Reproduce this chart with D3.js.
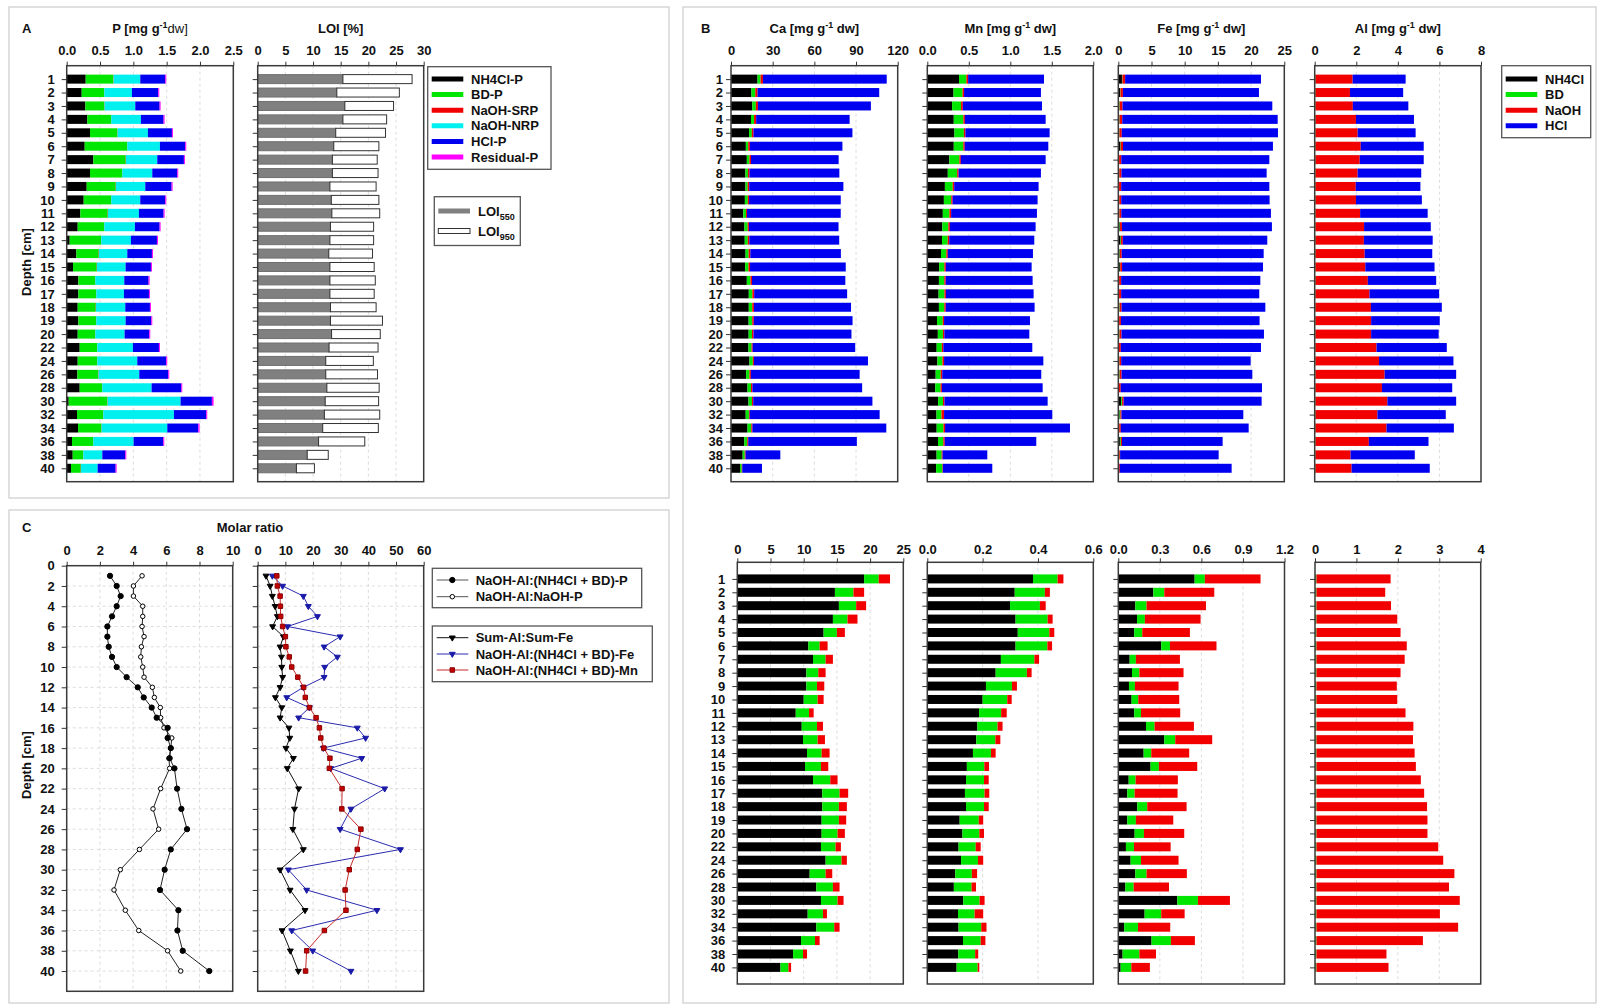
<!DOCTYPE html>
<html>
<head>
<meta charset="utf-8">
<script src="https://cdn.jsdelivr.net/npm/d3@7"></script>
<style>
  body { margin: 0; background: #fff; }
  svg text { font-family: "Liberation Sans", Arial, sans-serif; font-weight: bold; font-size: 13px; fill: #111; }
</style>
</head>
<body>
<svg id="fig" width="1598" height="1005"></svg>
<script>
// --- data ---
const depths = ["1","2","3","4","5","6","7","8","9","10","11","12","13","14","15","16","17","18","19","20","22","24","26","28","30","32","34","36","38","40"];

// P fractions [mg g-1 dw]
const pNH4Cl = [0.285,0.225,0.28,0.31,0.35,0.27,0.40,0.35,0.30,0.255,0.205,0.165,0.045,0.145,0.095,0.175,0.175,0.165,0.175,0.165,0.195,0.165,0.16,0.195,0.03,0.155,0.17,0.08,0.09,0.065];
const pBD = [0.415,0.335,0.285,0.355,0.41,0.635,0.485,0.48,0.435,0.41,0.41,0.395,0.47,0.335,0.355,0.25,0.265,0.27,0.265,0.26,0.26,0.29,0.315,0.335,0.58,0.39,0.35,0.315,0.155,0.145];
const pNaOHSRP = [0.004,0.004,0.004,0.004,0.004,0.004,0.004,0.004,0.004,0.004,0.004,0.004,0.004,0.004,0.004,0.004,0.004,0.004,0.004,0.004,0.004,0.004,0.004,0.004,0.004,0.004,0.004,0.004,0.004,0.004];
const pNaOHNRP = [0.40,0.415,0.46,0.445,0.455,0.49,0.47,0.45,0.44,0.435,0.465,0.46,0.445,0.425,0.43,0.435,0.415,0.44,0.44,0.44,0.535,0.60,0.61,0.74,1.095,1.06,0.985,0.605,0.285,0.25];
const pHCl = [0.375,0.395,0.365,0.34,0.36,0.38,0.40,0.375,0.395,0.375,0.37,0.37,0.39,0.37,0.38,0.365,0.375,0.37,0.385,0.37,0.39,0.435,0.435,0.445,0.47,0.485,0.465,0.445,0.345,0.27];
const pResidual = [0.015,0.015,0.015,0.015,0.015,0.015,0.015,0.015,0.015,0.015,0.015,0.015,0.015,0.015,0.015,0.015,0.015,0.015,0.015,0.015,0.015,0.015,0.015,0.015,0.025,0.015,0.02,0.015,0.015,0.015];

// LOI [%]
const loi550 = [15.4,14.3,15.75,15.4,14.1,13.75,13.5,13.5,13.05,13.3,13.4,13.15,13.05,12.85,13.05,13.05,13.05,13.15,13.15,13.35,12.9,12.3,12.3,12.5,12.2,12.05,11.75,11.0,8.95,7.0];
const loi950 = [12.5,11.3,8.8,7.9,9.0,8.15,8.1,8.25,8.35,8.6,8.65,7.8,7.9,7.9,8.0,8.2,8.0,8.25,9.4,8.8,8.85,8.6,9.35,9.45,9.65,10.0,10.05,8.35,3.8,3.25];

// Ca
const caNH4Cl = [19.1,14.7,15.3,14.4,13.0,10.7,11.4,10.4,10.4,10.0,8.8,9.7,9.9,10.5,10.2,11.4,12.8,12.8,12.7,12.7,12.6,13.3,10.9,11.9,12.6,10.6,11.9,9.6,8.4,6.5];
const caBD = [2.2,2.8,2.6,2.2,2.0,1.7,1.9,1.8,1.6,2.1,2.0,2.3,2.2,2.2,2.4,2.6,2.6,2.5,2.6,2.4,2.2,2.4,2.4,2.5,2.5,2.3,2.7,2.1,1.5,1.2];
const caNaOH = [1.7,1.6,1.5,1.5,1.2,1.2,1.1,1.1,1.1,0.9,0.7,0.9,1.1,1.2,1.1,1.1,1.3,1.2,1.1,1.1,0.8,0.8,1.0,1.0,0.9,0.6,0.8,0.7,0.6,0.4];
const caHCl = [89.1,87.6,81.3,67.3,71.2,66.6,63.1,64.7,67.8,66.0,67.5,64.5,64.7,65.2,68.9,67.2,66.9,69.9,71.1,70.5,73.8,82.1,78.3,79.0,85.8,93.5,96.4,78.2,25.0,14.2];

// Mn
const mnNH4Cl = [0.382,0.316,0.299,0.319,0.327,0.319,0.266,0.247,0.212,0.2,0.187,0.181,0.177,0.165,0.143,0.14,0.136,0.14,0.117,0.127,0.113,0.122,0.101,0.096,0.13,0.111,0.113,0.129,0.112,0.106];
const mnBD = [0.089,0.109,0.108,0.116,0.114,0.115,0.121,0.113,0.094,0.089,0.08,0.073,0.069,0.065,0.063,0.065,0.071,0.065,0.069,0.061,0.062,0.061,0.06,0.064,0.059,0.06,0.082,0.064,0.061,0.076];
const mnNaOH = [0.021,0.018,0.021,0.018,0.018,0.017,0.017,0.017,0.018,0.016,0.02,0.018,0.018,0.017,0.017,0.017,0.017,0.017,0.016,0.017,0.018,0.019,0.019,0.016,0.018,0.031,0.019,0.017,0.011,0.006];
const mnHCl = [0.914,0.926,0.954,0.973,1.015,1.007,1.022,0.992,1.017,1.024,1.034,1.033,1.025,1.026,1.034,1.047,1.057,1.071,1.035,1.024,1.072,1.196,1.193,1.214,1.243,1.304,1.505,1.103,0.539,0.595];

// Fe
const feNH4Cl = [0.551,0.253,0.123,0.135,0.115,0.31,0.082,0.099,0.077,0.096,0.115,0.2,0.332,0.183,0.233,0.075,0.065,0.137,0.065,0.118,0.055,0.089,0.123,0.051,0.426,0.19,0.043,0.24,0.031,0.017];
const feBD = [0.074,0.079,0.081,0.057,0.058,0.063,0.045,0.053,0.043,0.048,0.049,0.062,0.079,0.055,0.06,0.05,0.053,0.072,0.062,0.067,0.058,0.075,0.081,0.06,0.149,0.12,0.099,0.14,0.121,0.077];
const feNaOH = [0.402,0.361,0.429,0.402,0.344,0.336,0.318,0.319,0.315,0.296,0.283,0.284,0.267,0.274,0.277,0.305,0.31,0.284,0.27,0.291,0.265,0.271,0.291,0.255,0.231,0.169,0.233,0.173,0.12,0.134];
const feHCl = [20.46,20.49,22.56,23.41,23.53,22.58,22.3,21.87,22.31,22.35,22.54,22.59,21.76,21.38,21.22,20.96,20.8,21.65,20.88,21.46,21.11,19.5,19.69,21.27,20.78,18.35,19.26,15.16,14.84,16.84];

// Al
const alNH4Cl = [0.01,0.01,0.01,0.01,0.01,0.01,0.01,0.01,0.01,0.01,0.01,0.01,0.01,0.01,0.01,0.01,0.01,0.01,0.01,0.01,0.01,0.01,0.01,0.01,0.01,0.01,0.01,0.01,0.01,0.01];
const alBD = [0.025,0.025,0.025,0.025,0.025,0.025,0.025,0.025,0.025,0.025,0.025,0.025,0.025,0.025,0.025,0.025,0.025,0.025,0.025,0.025,0.025,0.025,0.025,0.025,0.025,0.025,0.025,0.025,0.025,0.025];
const alNaOH = [1.79,1.66,1.8,1.95,2.03,2.18,2.13,2.03,1.94,1.95,2.15,2.34,2.33,2.37,2.4,2.52,2.6,2.67,2.68,2.68,2.94,3.06,3.33,3.2,3.46,2.98,3.42,2.57,1.69,1.74];
const alHCl = [2.55,2.56,2.67,2.79,2.79,3.03,3.08,3.06,3.11,3.17,3.25,3.21,3.31,3.25,3.33,3.29,3.35,3.41,3.3,3.25,3.38,3.58,3.44,3.38,3.31,3.29,3.24,2.87,3.09,3.76];

// molar ratios
const ratioAlP_NH4ClBD = [2.61,3.01,3.25,3.01,2.73,2.45,2.45,2.53,2.73,3.01,3.61,4.28,4.64,5.12,5.42,6.08,6.08,6.27,6.2,6.49,6.65,6.91,7.25,6.27,5.9,5.62,6.73,6.67,6.99,8.59];
const ratioAlP_NaOH = [4.54,4.02,4.02,4.58,4.58,4.54,4.66,4.5,4.46,4.58,4.66,5.16,5.28,5.64,5.66,5.86,6.33,6.27,6.16,6.2,5.66,5.2,5.54,4.38,3.23,2.85,3.53,4.34,6.08,6.87];
const ratioSumAlFe = [3.0,4.5,5.3,6.3,7.1,5.4,9.3,8.1,8.6,8.7,9.0,8.1,6.4,8.7,8.1,11.3,11.6,10.2,12.9,10.7,14.8,13.3,12.7,16.5,8.1,11.7,17.1,8.8,11.8,14.7];
const ratioAlFe = [5.3,9.0,16.5,18.3,21.6,10.8,29.8,24.0,28.8,24.2,24.0,16.5,10.5,18.7,14.8,36.0,39.0,23.7,37.6,26.4,45.9,33.7,29.8,51.6,11.1,17.7,43.1,12.3,19.9,33.7];
const ratioAlMn = [6.9,7.1,8.1,8.2,8.3,9.0,10.0,10.2,11.4,12.3,14.5,16.6,17.2,18.7,21.1,22.3,22.8,23.9,26.1,25.9,30.5,30.4,37.3,36.0,33.1,31.6,31.9,24.1,17.7,17.3];

// tick labels
const pTicks = [0,0.5,1,1.5,2,2.5];
const loiTicks = [0,5,10,15,20,25,30];
const caTicks = [0,30,60,90,120];
const mnTicks = [0,0.5,1,1.5,2];
const feTicks = [0,5,10,15,20,25];
const alTicks = [0,2,4,6,8];
const caLowTicks = [0,5,10,15,20,25];
const mnLowTicks = [0,0.2,0.4,0.6];
const feLowTicks = [0,0.3,0.6,0.9,1.2];
const alLowTicks = [0,1,2,3,4];
const ratioTicks1 = [0,2,4,6,8,10];
const ratioTicks2 = [0,10,20,30,40,50,60];
const depthTicks = [0,2,4,6,8,10,12,14,16,18,20,22,24,26,28,30,32,34,36,38,40];

// --- colours ---
const cBlack = "#000000", cGreen = "#00e600", cRed = "#f20000", cCyan = "#00f0f0", cBlue = "#0000f0", cMag = "#ff00ff";

const svg = d3.select("#fig");
svg.append("rect").attr("width", 1598).attr("height", 1005).attr("fill", "#fff");

// panel borders
[[9,7,669,498],[683,7,1596,1003],[9,510,669,1003]].forEach(b => {
  svg.append("rect").attr("x", b[0]).attr("y", b[1]).attr("width", b[2]-b[0]).attr("height", b[3]-b[1])
    .attr("fill", "none").attr("stroke", "#cccccc").attr("stroke-width", 1.2);
});

// text with superscript / subscript parts
function richText(x, y, parts, anchor) {
  const t = svg.append("text").attr("x", x).attr("y", y).attr("text-anchor", anchor || "middle");
  parts.forEach(p => {
    const s = t.append("tspan").text(p.t);
    if (p.dy) s.attr("dy", p.dy);
    if (p.small) s.style("font-size", "9px");
    if (p.normal) s.style("font-weight", "normal");
  });
  return t;
}

const f1 = d3.format(".1f"), f0 = d3.format("d");

function barPlot(o) {
  const g = svg.append("g");
  const x = d3.scaleLinear().domain([o.ticks[0], o.ticks[o.ticks.length-1]]).range([o.x0, o.x1]);
  const y = d3.scalePoint().domain(depths).range([o.y0, o.y1]).padding(o.pad);

  g.append("g").selectAll("line").data(o.ticks.slice(1, -1)).join("line")
    .attr("x1", d => x(d)).attr("x2", d => x(d)).attr("y1", o.y0).attr("y2", o.y1)
    .attr("stroke", "#dcdcdc").attr("stroke-dasharray", "3,3");

  const rows = depths.map((d, i) => {
    const r = { depth: d };
    o.series.forEach((s, k) => r["k" + k] = s.values[i]);
    return r;
  });
  const stacked = d3.stack().keys(o.series.map((s, k) => "k" + k))(rows);
  g.append("g").selectAll("g").data(stacked).join("g")
    .attr("fill", (d, k) => o.series[k].color)
    .attr("stroke", (d, k) => o.series[k].stroke || "none")
    .attr("stroke-width", 1)
    .selectAll("rect").data(d => d).join("rect")
    .attr("x", d => x(d[0])).attr("width", d => Math.max(0, x(d[1]) - x(d[0])))
    .attr("y", d => y(d.data.depth) - o.bh / 2).attr("height", o.bh);

  g.append("rect").attr("x", o.x0).attr("y", o.y0).attr("width", o.x1 - o.x0).attr("height", o.y1 - o.y0)
    .attr("fill", "none").attr("stroke", "#3a3a3a").attr("stroke-width", 1.5);

  const top = g.append("g").attr("transform", `translate(0,${o.y0})`).attr("color", "#333")
    .call(d3.axisTop(x).tickValues(o.ticks).tickFormat(o.fmt).tickSize(4).tickSizeOuter(0).tickPadding(o.tp));
  top.select(".domain").remove();

  const left = g.append("g").attr("transform", `translate(${o.x0},0)`).attr("color", "#333")
    .call(d3.axisLeft(y).tickSize(5).tickPadding(o.lp || 6));
  left.select(".domain").remove();
  if (!o.labels) left.selectAll("text").remove();

  if (o.title) richText((o.x0 + o.x1) / 2, 33, o.title);
}

// ---------------- Panel A ----------------
svg.append("text").attr("x", 22).attr("y", 33).text("A");
barPlot({ x0: 66.7, x1: 233.3, y0: 65.7, y1: 481.7, pad: 1, bh: 9, tp: 7, lp: 7, labels: true,
  ticks: pTicks, fmt: f1,
  title: [{t: "P [mg g"}, {t: "-1", dy: -5, small: true}, {t: "dw]", dy: 5, normal: true}],
  series: [
    { values: pNH4Cl, color: cBlack }, { values: pBD, color: cGreen }, { values: pNaOHSRP, color: cRed },
    { values: pNaOHNRP, color: cCyan }, { values: pHCl, color: cBlue }, { values: pResidual, color: cMag }
  ] });
barPlot({ x0: 257.7, x1: 423.7, y0: 65.7, y1: 481.7, pad: 1, bh: 9, tp: 7, labels: false,
  ticks: loiTicks, fmt: f0,
  title: [{t: "LOI [%]"}],
  series: [
    { values: loi550, color: "#808080", stroke: "#707070" },
    { values: loi950, color: "#ffffff", stroke: "#333" }
  ] });
svg.append("text").attr("transform", "translate(31,262) rotate(-90)").attr("text-anchor", "middle").text("Depth [cm]");

// legends in A
const pLegend = [["NH4Cl-P", cBlack], ["BD-P", cGreen], ["NaOH-SRP", cRed], ["NaOH-NRP", cCyan], ["HCl-P", cBlue], ["Residual-P", cMag]];
svg.append("rect").attr("x", 427.7).attr("y", 66.7).attr("width", 123.3).attr("height", 102.6)
  .attr("fill", "#fff").attr("stroke", "#555").attr("stroke-width", 1.3);
pLegend.forEach((d, i) => {
  const yy = 79 + i * 15.6;
  svg.append("line").attr("x1", 431.7).attr("x2", 463.3).attr("y1", yy).attr("y2", yy).attr("stroke", d[1]).attr("stroke-width", 5);
  svg.append("text").attr("x", 471).attr("y", yy + 4.6).text(d[0]);
});
svg.append("rect").attr("x", 434.3).attr("y", 196.7).attr("width", 86).attr("height", 48.8)
  .attr("fill", "#fff").attr("stroke", "#555").attr("stroke-width", 1.3);
svg.append("rect").attr("x", 438.3).attr("y", 208.5).attr("width", 31.7).attr("height", 5).attr("fill", "#808080");
svg.append("rect").attr("x", 438.3).attr("y", 228.5).attr("width", 31.7).attr("height", 5).attr("fill", "#fff").attr("stroke", "#333");
richText(478, 216, [{t: "LOI"}, {t: "550", dy: 4, small: true}], "start");
richText(478, 236, [{t: "LOI"}, {t: "950", dy: 4, small: true}], "start");

// ---------------- Panel B ----------------
svg.append("text").attr("x", 701).attr("y", 33).text("B");
const mgTitle = el => [{t: el + " [mg g"}, {t: "-1", dy: -5, small: true}, {t: " dw]", dy: 5}];
const topB = { y0: 65.7, y1: 481.7, pad: 1, bh: 9, tp: 7, lp: 3 };
const lowB = { y0: 562.3, y1: 984, pad: 1.24, bh: 9, tp: 4, lp: 7 };
const four = (a, b, c, d) => [{ values: a, color: cBlack }, { values: b, color: cGreen }, { values: c, color: cRed }, { values: d, color: cBlue }];
const three = (a, b, c) => [{ values: a, color: cBlack }, { values: b, color: cGreen }, { values: c, color: cRed }];

barPlot(Object.assign({ x0: 731, x1: 897.7, ticks: caTicks, fmt: f0, labels: true, title: mgTitle("Ca"), series: four(caNH4Cl, caBD, caNaOH, caHCl) }, topB));
barPlot(Object.assign({ x0: 927.3, x1: 1093.3, ticks: mnTicks, fmt: f1, labels: false, title: mgTitle("Mn"), series: four(mnNH4Cl, mnBD, mnNaOH, mnHCl) }, topB));
barPlot(Object.assign({ x0: 1118.3, x1: 1284.3, ticks: feTicks, fmt: f0, labels: false, title: mgTitle("Fe"), series: four(feNH4Cl, feBD, feNaOH, feHCl) }, topB));
barPlot(Object.assign({ x0: 1314.7, x1: 1481, ticks: alTicks, fmt: f0, labels: false, title: mgTitle("Al"), series: four(alNH4Cl, alBD, alNaOH, alHCl) }, topB));

barPlot(Object.assign({ x0: 737.3, x1: 903.3, ticks: caLowTicks, fmt: f0, labels: true, series: three(caNH4Cl, caBD, caNaOH) }, lowB));
barPlot(Object.assign({ x0: 927.3, x1: 1093.3, ticks: mnLowTicks, fmt: f1, labels: false, series: three(mnNH4Cl, mnBD, mnNaOH) }, lowB));
barPlot(Object.assign({ x0: 1118.3, x1: 1284.5, ticks: feLowTicks, fmt: f1, labels: false, series: three(feNH4Cl, feBD, feNaOH) }, lowB));
barPlot(Object.assign({ x0: 1315, x1: 1480.7, ticks: alLowTicks, fmt: f0, labels: false, series: three(alNH4Cl, alBD, alNaOH) }, lowB));

const bLegend = [["NH4Cl", cBlack], ["BD", cGreen], ["NaOH", cRed], ["HCl", cBlue]];
svg.append("rect").attr("x", 1501.7).attr("y", 65.7).attr("width", 89).attr("height", 72)
  .attr("fill", "#fff").attr("stroke", "#555").attr("stroke-width", 1.3);
bLegend.forEach((d, i) => {
  const yy = 79 + i * 15.6;
  svg.append("line").attr("x1", 1505.7).attr("x2", 1537.3).attr("y1", yy).attr("y2", yy).attr("stroke", d[1]).attr("stroke-width", 5);
  svg.append("text").attr("x", 1545).attr("y", yy + 4.6).text(d[0]);
});

// ---------------- Panel C ----------------
svg.append("text").attr("x", 22).attr("y", 532).text("C");
svg.append("text").attr("x", 250).attr("y", 532).attr("text-anchor", "middle").text("Molar ratio");
svg.append("text").attr("transform", "translate(31,765) rotate(-90)").attr("text-anchor", "middle").text("Depth [cm]");

const depthNum = depths.map(Number);
const cY0 = 565.7, cY1 = 991.3;

function marker(sel, type, fill, stroke) {
  const sym = { circle: d3.symbolCircle, open: d3.symbolCircle, tri: d3.symbolTriangle, square: d3.symbolSquare }[type];
  const size = { circle: 22, open: 16, tri: 15, square: 20 }[type];
  sel.attr("d", d3.symbol().type(sym).size(size)())
    .attr("fill", type === "open" ? "#fff" : fill)
    .attr("stroke", stroke).attr("stroke-width", 1);
  return sel;
}

function linePlot(o) {
  const g = svg.append("g");
  const x = d3.scaleLinear().domain([o.ticks[0], o.ticks[o.ticks.length-1]]).range([o.x0, o.x1]);
  const y = d3.scaleLinear().domain([0, 42]).range([cY0, cY1]);

  g.append("g").selectAll("line").data(o.ticks.slice(1, -1)).join("line")
    .attr("x1", d => x(d)).attr("x2", d => x(d)).attr("y1", cY0).attr("y2", cY1)
    .attr("stroke", "#dcdcdc").attr("stroke-dasharray", "3,3");
  g.append("g").selectAll("line").data(depthTicks.slice(1)).join("line")
    .attr("y1", d => y(d)).attr("y2", d => y(d)).attr("x1", o.x0).attr("x2", o.x1)
    .attr("stroke", "#dcdcdc").attr("stroke-dasharray", "3,3");

  g.append("rect").attr("x", o.x0).attr("y", cY0).attr("width", o.x1 - o.x0).attr("height", cY1 - cY0)
    .attr("fill", "none").attr("stroke", "#3a3a3a").attr("stroke-width", 1.5);

  o.series.forEach(s => {
    const pts = depthNum.map((d, i) => ({ d: d, v: s.values[i] }));
    g.append("path").datum(pts)
      .attr("d", d3.line().x(p => x(p.v)).y(p => y(p.d)))
      .attr("fill", "none").attr("stroke", s.line).attr("stroke-width", 1);
    g.append("g").selectAll("path").data(pts).join("path")
      .attr("transform", p => `translate(${x(p.v)},${y(p.d)})` + (s.type === "tri" ? " rotate(180)" : ""))
      .call(sel => marker(sel, s.type, s.fill, s.stroke));
  });

  const top = g.append("g").attr("transform", `translate(0,${cY0})`).attr("color", "#333")
    .call(d3.axisTop(x).tickValues(o.ticks).tickFormat(f0).tickSize(4).tickSizeOuter(0).tickPadding(7));
  top.select(".domain").remove();
  const left = g.append("g").attr("transform", `translate(${o.x0},0)`).attr("color", "#333")
    .call(d3.axisLeft(y).tickValues(depthTicks).tickFormat(f0).tickSize(5).tickPadding(7));
  left.select(".domain").remove();
  if (!o.labels) left.selectAll("text").remove();
}

const sFilled = { values: ratioAlP_NH4ClBD, type: "circle", fill: "#000", stroke: "#000", line: "#222" };
const sOpen = { values: ratioAlP_NaOH, type: "open", fill: "#fff", stroke: "#000", line: "#222" };
const sSum = { values: ratioSumAlFe, type: "tri", fill: "#000", stroke: "#000", line: "#111" };
const sFe = { values: ratioAlFe, type: "tri", fill: "#1a1aa8", stroke: "#1a1aa8", line: "#2b2bb0" };
const sMn = { values: ratioAlMn, type: "square", fill: "#c40000", stroke: "#8a0000", line: "#c62a2a" };

linePlot({ x0: 66.7, x1: 232.7, ticks: ratioTicks1, labels: true, series: [sOpen, sFilled] });
linePlot({ x0: 257.7, x1: 423.7, ticks: ratioTicks2, labels: false, series: [sSum, sFe, sMn] });

function lineLegend(bx, by, bw, bh, items) {
  svg.append("rect").attr("x", bx).attr("y", by).attr("width", bw).attr("height", bh)
    .attr("fill", "#fff").attr("stroke", "#555").attr("stroke-width", 1.3);
  items.forEach(it => {
    svg.append("line").attr("x1", 436.7).attr("x2", 468.3).attr("y1", it.y).attr("y2", it.y)
      .attr("stroke", it.s.line === "#222" ? "#555" : it.s.line).attr("stroke-width", 1);
    marker(svg.append("path"), it.s.type, it.s.fill, it.s.stroke)
      .attr("transform", `translate(452.3,${it.y})` + (it.s.type === "tri" ? " rotate(180)" : ""));
    svg.append("text").attr("x", 475.7).attr("y", it.y + 4.6).text(it.label);
  });
}
lineLegend(432.3, 568.3, 209.4, 39.4, [
  { y: 580, s: sFilled, label: "NaOH-Al:(NH4Cl + BD)-P" },
  { y: 596.7, s: sOpen, label: "NaOH-Al:NaOH-P" }
]);
lineLegend(432.3, 626, 220, 55.7, [
  { y: 637.7, s: sSum, label: "Sum-Al:Sum-Fe" },
  { y: 654, s: sFe, label: "NaOH-Al:(NH4Cl + BD)-Fe" },
  { y: 670, s: sMn, label: "NaOH-Al:(NH4Cl + BD)-Mn" }
]);
</script>
</body>
</html>
